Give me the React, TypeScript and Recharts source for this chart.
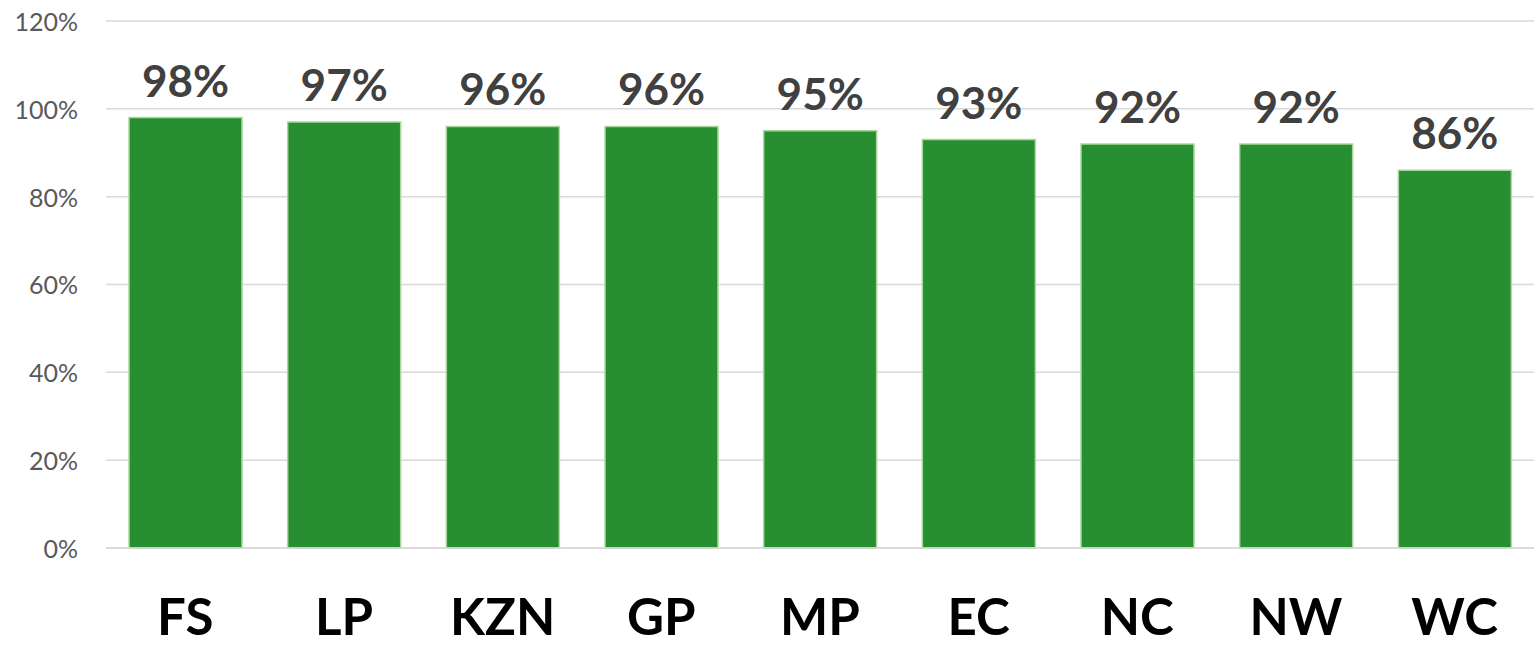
import { BarChart, Bar, XAxis, YAxis, CartesianGrid, LabelList } from "recharts";

const provinces = ["FS", "LP", "KZN", "GP", "MP", "EC", "NC", "NW", "WC"];
const shares = [98, 97, 96, 96, 95, 93, 92, 92, 86];
const yTicks = [0, 20, 40, 60, 80, 100, 120];

const rows = provinces.map((p, i) => ({ province: p, share: shares[i] }));

const font = "Lato, 'Open Sans', sans-serif";

function ProvinceTick(props: any) {
  const { x, y, payload } = props;
  return (
    <text x={x} y={y + 79} textAnchor="middle" fontFamily={font} fontWeight={700} fontSize={51} fill="#000">
      {payload.value}
    </text>
  );
}

export default function App() {
  return (
    <div style={{ position: "absolute", left: 0, top: 0, background: "#fff" }}>
      <BarChart width={1534} height={649} data={rows} margin={{ top: 21, right: 0, bottom: 0, left: 0 }} barSize={113}>
        <CartesianGrid vertical={false} stroke="#d9d9d9" strokeWidth={1.5} />
        <XAxis
          dataKey="province"
          height={101}
          axisLine={{ stroke: "#d9d9d9", strokeWidth: 1.5 }}
          tickLine={false}
          tick={<ProvinceTick />}
          interval={0}
        />
        <YAxis
          width={106}
          domain={[0, 120]}
          ticks={yTicks}
          axisLine={false}
          tickLine={false}
          tickSize={0}
          tickMargin={28}
          tickFormatter={(v) => `${v}%`}
          tick={{ fontFamily: font, fontSize: 25, fill: "#595959", dy: 1 }}
        />
        <Bar dataKey="share" fill="#278f31" stroke="#a8d99c" strokeWidth={1.5} isAnimationActive={false}>
          <LabelList
            dataKey="share"
            position="top"
            offset={21}
            formatter={(v: any) => `${v}%`}
            style={{ fontFamily: font, fontWeight: 700, fontSize: 44, fill: "#404040" }}
          />
        </Bar>
      </BarChart>
    </div>
  );
}
